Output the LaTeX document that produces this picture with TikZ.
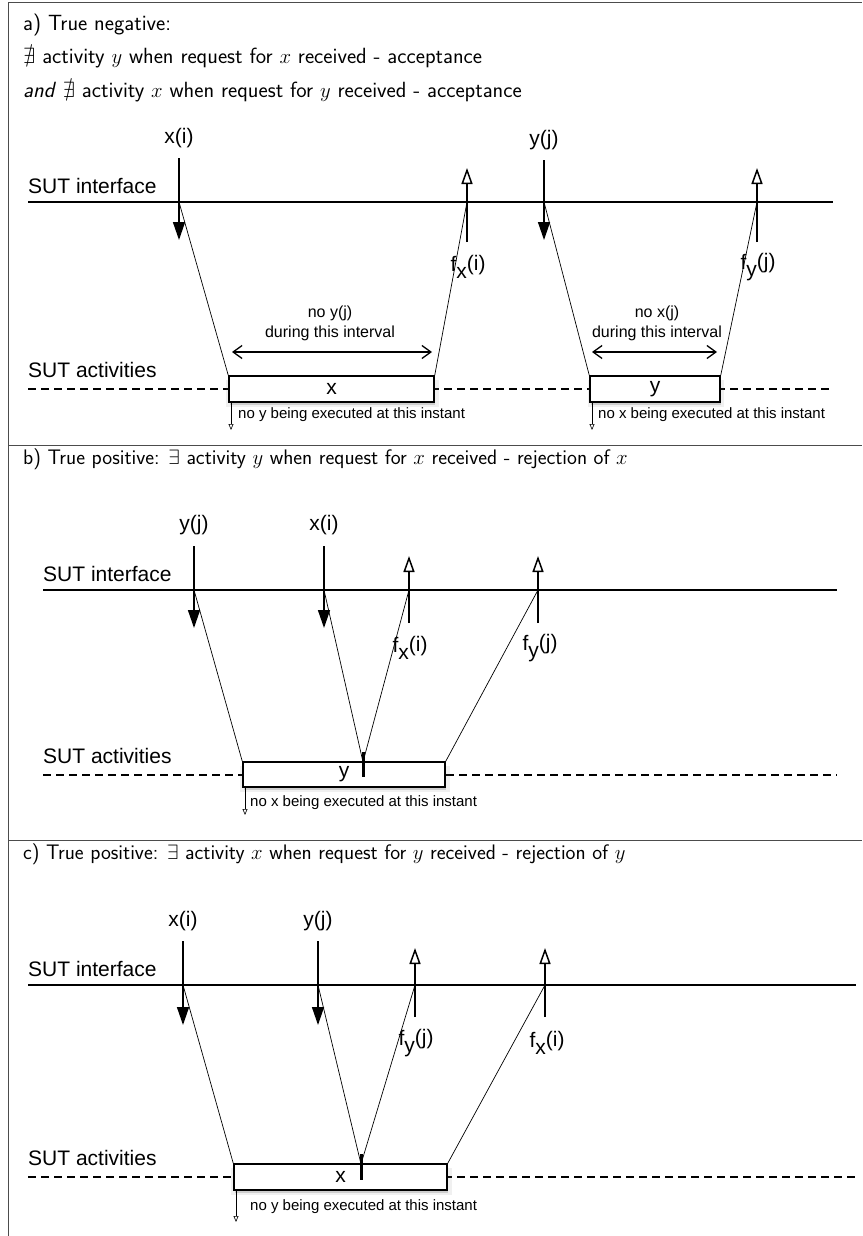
\documentclass[tikz,border=0pt]{standalone}
\usepackage{amssymb}
\usepackage{fontspec}
\newfontfamily\arial{Liberation Sans}
\usetikzlibrary{arrows.meta,shadows}
\begin{document}
\begin{tikzpicture}[x=1pt,y=-1pt,
  frame/.style={draw=black!70, line width=1pt},
  head/.style={anchor=west, inner sep=0pt, font=\sffamily\fontsize{22}{26}\selectfont},
  headb/.style={anchor=west, inner sep=0pt, font=\sffamily\fontsize{21}{25}\selectfont},
  lbl/.style={inner sep=0pt, font=\arial\fontsize{21}{25}\selectfont},
  side/.style={anchor=west, inner sep=0pt, font=\arial\fontsize{21}{25}\selectfont},
  slbl/.style={inner sep=0pt, font=\arial\fontsize{16}{20}\selectfont, align=center},
  note/.style={anchor=west, inner sep=0pt, font=\arial\fontsize{15}{18}\selectfont},
  iface/.style={line width=1.5pt},
  act/.style={dash pattern=on 8pt off 5pt, line width=1.2pt},
  req/.style={line width=1.5pt, -{Triangle[length=18pt,width=12pt]}},
  resp/.style={line width=1.5pt, -{Triangle[length=16pt,width=11pt,fill=white]}},
  msg/.style={line width=0.7pt},
  interval/.style={line width=1.3pt, {Straight Barb[length=9pt,width=13pt]}-{Straight Barb[length=9pt,width=13pt]}},
  actbox/.style={draw, line width=1.5pt, fill=white, inner sep=0pt, font=\arial\fontsize{21}{25}\selectfont,
    drop shadow={shadow xshift=1pt, shadow yshift=-4pt, opacity=0.12, shadow scale=1.04},
    drop shadow={shadow xshift=1pt, shadow yshift=-3pt, opacity=0.3}},
  markbar/.style={line width=3pt},
  smallarr/.style={line width=0.6pt, -{Triangle[length=6pt,width=5pt,fill=white]}},
]
\useasboundingbox (0,0) rectangle (862,1236);
% frame
\draw[frame] (8,1236) -- (8,2.5) -- (862,2.5);
\draw[frame] (8,445) -- (862,445);
\draw[frame] (8,840) -- (862,840);

% ================= panel a
\node[head] (ha1) at (23,25) {a) True negative:};
\node[head] (ha2) at (23,58) {$\nexists$ activity $y$ when request for $x$ received - acceptance};
\node[head] (ha3) at (23,92) {\textit{and} $\nexists$ activity $x$ when request for $y$ received - acceptance};

\node[side] (aif) at (28,186) {SUT interface};
\node[side] (aact) at (28,370) {SUT activities};
\coordinate (aifL) at (28,202); \coordinate (aifR) at (833,202);
\coordinate (aacL) at (28,389); \coordinate (aacR) at (833,389);
\draw[iface] (aifL) -- (aifR);
\draw[act] (aacL) -- (aacR);
\node[actbox, minimum width=205pt, minimum height=26pt] (abx) at (331.5,389) {x};
\node[actbox, minimum width=130pt, minimum height=26pt] (aby) at (655,389) {y};

\node[lbl] (axl) at (179,138) {x(i)};
\coordinate (axt) at (179,158); \coordinate (axi) at (179,202); \coordinate (axh) at (179,240);
\draw[req] (axt) -- (axh);
\draw[msg] (axi) -- (abx.north west);

\coordinate (afxb) at (467,242); \coordinate (afxi) at (467,202); \coordinate (afxt) at (467,168);
\draw[resp] (afxb) -- (afxt);
\draw[msg] (abx.north east) -- (afxi);
\node[lbl] (afxl) at (468,267) {f\raisebox{-7pt}{x}\raisebox{1pt}{(i)}};

\node[lbl] (ayl) at (544,140) {y(j)};
\coordinate (ayt) at (544,160); \coordinate (ayi) at (544,202); \coordinate (ayh) at (544,240);
\draw[req] (ayt) -- (ayh);
\draw[msg] (ayi) -- (aby.north west);

\coordinate (afyb) at (757,242); \coordinate (afyi) at (757,202); \coordinate (afyt) at (757,168);
\draw[resp] (afyb) -- (afyt);
\draw[msg] (aby.north east) -- (afyi);
\node[lbl] (afyl) at (758,267) {f\raisebox{-7pt}{y}\raisebox{1pt}{(j)}};

\coordinate (ai1l) at (232,352); \coordinate (ai1r) at (432,352);
\draw[interval] (ai1l) -- (ai1r);
\node[slbl] (ai1t) at (330,323) {no y(j)\\during this interval};
\coordinate (ai2l) at (592,352); \coordinate (ai2r) at (717,352);
\draw[interval] (ai2l) -- (ai2r);
\node[slbl] (ai2t) at (657,323) {no x(j)\\during this interval};

\coordinate (as1) at (231,430);
\draw[smallarr] (abx.south west -| as1) -- (as1);
\node[note] (an1) at (238,415) {no y being executed at this instant};
\coordinate (as2) at (592,430);
\draw[smallarr] (aby.south west -| as2) -- (as2);
\node[note] (an2) at (598,415) {no x being executed at this instant};

% ================= panel b
\node[headb] (hb) at (23,459) {b) True positive: $\exists$ activity $y$ when request for $x$ received - rejection of $x$};
\node[side] (bif) at (43,574) {SUT interface};
\node[side] (bact) at (43,756) {SUT activities};
\coordinate (bifL) at (43,590); \coordinate (bifR) at (837,590);
\coordinate (bacL) at (43,775); \coordinate (bacR) at (837,775);
\draw[iface] (bifL) -- (bifR);
\draw[act] (bacL) -- (bacR);
\node[actbox, minimum width=202pt, minimum height=25pt] (bby) at (344,774.5) {y};

\node[lbl] (byl) at (194,525) {y(j)};
\coordinate (byt) at (194,546); \coordinate (byi) at (194,590); \coordinate (byh) at (194,628);
\draw[req] (byt) -- (byh);
\draw[msg] (byi) -- (bby.north west);

\node[lbl] (bxl) at (324,525) {x(i)};
\coordinate (bxt) at (324,546); \coordinate (bxi) at (324,590); \coordinate (bxh) at (324,628);
\draw[req] (bxt) -- (bxh);
\coordinate (bm) at (363,762); \coordinate (bmt) at (363,752); \coordinate (bmb) at (363,777);
\draw[msg] (bxi) -- (bm);
\draw[markbar] (bmt) -- (bmb);

\coordinate (bfxb) at (409,623); \coordinate (bfxi) at (409,590); \coordinate (bfxt) at (409,556);
\draw[resp] (bfxb) -- (bfxt);
\draw[msg] (bm) -- (bfxi);
\node[lbl] (bfxl) at (410,648) {f\raisebox{-7pt}{x}\raisebox{1pt}{(i)}};

\coordinate (bfyb) at (538,623); \coordinate (bfyi) at (538,590); \coordinate (bfyt) at (538,556);
\draw[resp] (bfyb) -- (bfyt);
\draw[msg] (bby.north east) -- (bfyi);
\node[lbl] (bfyl) at (540,648) {f\raisebox{-7pt}{y}\raisebox{1pt}{(j)}};

\coordinate (bs) at (245,815);
\draw[smallarr] (bby.south west -| bs) -- (bs);
\node[note] (bn) at (250,803) {no x being executed at this instant};

% ================= panel c
\node[headb] (hc) at (23,854) {c) True positive: $\exists$ activity $x$ when request for $y$ received - rejection of $y$};
\node[side] (cif) at (28,969) {SUT interface};
\node[side] (cact) at (28,1158) {SUT activities};
\coordinate (cifL) at (28,985); \coordinate (cifR) at (856,985);
\coordinate (cacL) at (28,1177); \coordinate (cacR) at (856,1177);
\draw[iface] (cifL) -- (cifR);
\draw[act] (cacL) -- (cacR);
\node[actbox, minimum width=213pt, minimum height=26pt] (cbx) at (340.5,1177) {x};

\node[lbl] (cxl) at (183,921) {x(i)};
\coordinate (cxt) at (183,941); \coordinate (cxi) at (183,985); \coordinate (cxh) at (183,1025);
\draw[req] (cxt) -- (cxh);
\draw[msg] (cxi) -- (cbx.north west);

\node[lbl] (cyl) at (318,921) {y(j)};
\coordinate (cyt) at (318,941); \coordinate (cyi) at (318,985); \coordinate (cyh) at (318,1025);
\draw[req] (cyt) -- (cyh);
\coordinate (cm) at (361,1164); \coordinate (cmt) at (361,1154); \coordinate (cmb) at (361,1180);
\draw[msg] (cyi) -- (cm);
\draw[markbar] (cmt) -- (cmb);

\coordinate (cfyb) at (415,1017); \coordinate (cfyi) at (415,985); \coordinate (cfyt) at (415,948);
\draw[resp] (cfyb) -- (cfyt);
\draw[msg] (cm) -- (cfyi);
\node[lbl] (cfyl) at (416,1043) {f\raisebox{-7pt}{y}\raisebox{1pt}{(j)}};

\coordinate (cfxb) at (545,1017); \coordinate (cfxi) at (545,985); \coordinate (cfxt) at (545,948);
\draw[resp] (cfxb) -- (cfxt);
\draw[msg] (cbx.north east) -- (cfxi);
\node[lbl] (cfxl) at (547,1043) {f\raisebox{-7pt}{x}\raisebox{1pt}{(i)}};

\coordinate (cs) at (236,1222);
\draw[smallarr] (cbx.south west -| cs) -- (cs);
\node[note] (cn) at (250,1207) {no y being executed at this instant};
\end{tikzpicture}
\end{document}
